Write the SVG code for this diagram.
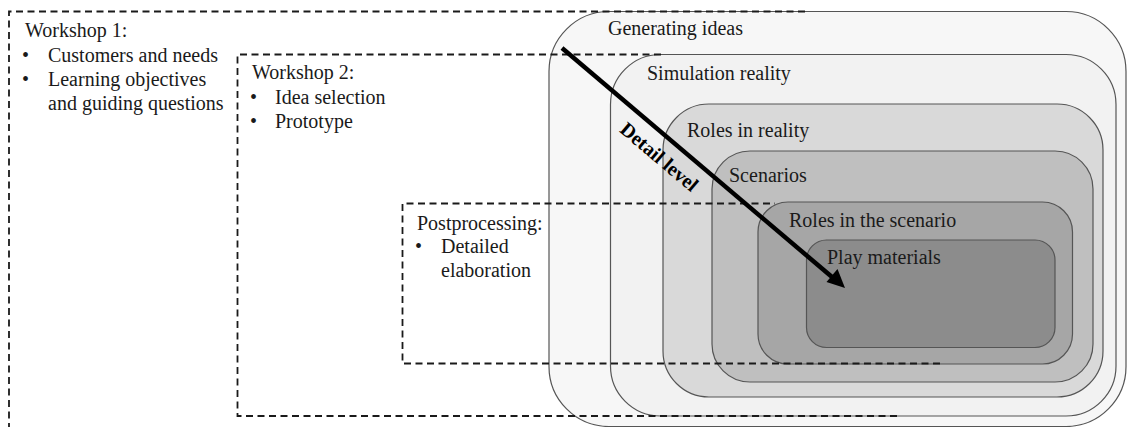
<svg xmlns="http://www.w3.org/2000/svg" width="1127" height="427" viewBox="0 0 1127 427">
  <style>
    .box { stroke: #555555; stroke-width: 1.2; }
    .frame { fill: none; stroke: #1a1a1a; stroke-width: 1.8; stroke-dasharray: 7 4.5; }
    .t { font-family: "Liberation Serif", "Times New Roman", serif; font-size: 20px; fill: #1a1a1a; }
    .b { font-family: "Liberation Serif", "Times New Roman", serif; font-size: 20px; font-weight: bold; fill: #000000; }
  </style>
  <rect width="1127" height="427" fill="#ffffff"/>

  <g id="generating-ideas">
    <rect class="box" x="549" y="11.5" width="577" height="415" rx="60" ry="60" fill="#f7f7f7"/>
    <text class="t" x="608" y="35">Generating ideas</text>
  </g>
  <g id="simulation-reality">
    <rect class="box" x="610.5" y="54.5" width="505.5" height="361.5" rx="50" ry="50" fill="#f2f2f2"/>
    <text class="t" x="647" y="80">Simulation reality</text>
  </g>
  <g id="roles-in-reality">
    <rect class="box" x="663" y="104" width="440" height="293" rx="46" ry="46" fill="#d9d9d9"/>
    <text class="t" x="687" y="137">Roles in reality</text>
  </g>
  <g id="scenarios">
    <rect class="box" x="712" y="151" width="381" height="231" rx="38" ry="38" fill="#bfbfbf"/>
    <text class="t" x="729" y="182">Scenarios</text>
  </g>
  <g id="roles-in-the-scenario">
    <rect class="box" x="758" y="202" width="314.5" height="162" rx="30" ry="30" fill="#a6a6a6"/>
    <text class="t" x="789" y="227">Roles in the scenario</text>
  </g>
  <g id="play-materials">
    <rect class="box" x="806.5" y="240" width="248.5" height="107.5" rx="20" ry="20" fill="#8c8c8c"/>
    <text class="t" x="827" y="264">Play materials</text>
  </g>

  <g id="workshop-1">
    <path class="frame" d="M 9 430 V 11.5 H 805"/>
    <text class="t" x="25" y="37">Workshop 1:</text>
    <text class="t" x="22" y="62">•</text>
    <text class="t" x="48" y="62">Customers and needs</text>
    <text class="t" x="22" y="86">•</text>
    <text class="t" x="48" y="86">Learning objectives</text>
    <text class="t" x="48" y="110">and guiding questions</text>
  </g>
  <g id="workshop-2">
    <path class="frame" d="M 897 416 H 237.5 V 54.5 H 663"/>
    <text class="t" x="252" y="79">Workshop 2:</text>
    <text class="t" x="250" y="104">•</text>
    <text class="t" x="275" y="104">Idea selection</text>
    <text class="t" x="250" y="128">•</text>
    <text class="t" x="275" y="128">Prototype</text>
  </g>
  <g id="postprocessing">
    <path class="frame" d="M 940 363.5 H 402.5 V 203.5 H 775"/>
    <text class="t" x="417" y="230">Postprocessing:</text>
    <text class="t" x="415" y="253">•</text>
    <text class="t" x="441" y="253">Detailed</text>
    <text class="t" x="441" y="277">elaboration</text>
  </g>

  <g id="connectors">
    <line x1="562" y1="48" x2="832" y2="277" stroke="#000000" stroke-width="4.5"/>
    <polygon points="845,288 826.5,282 837.5,269" fill="#000000"/>
    <text class="b" x="655" y="162" text-anchor="middle" transform="rotate(40.3 655 162)">Detail level</text>
  </g>
</svg>
